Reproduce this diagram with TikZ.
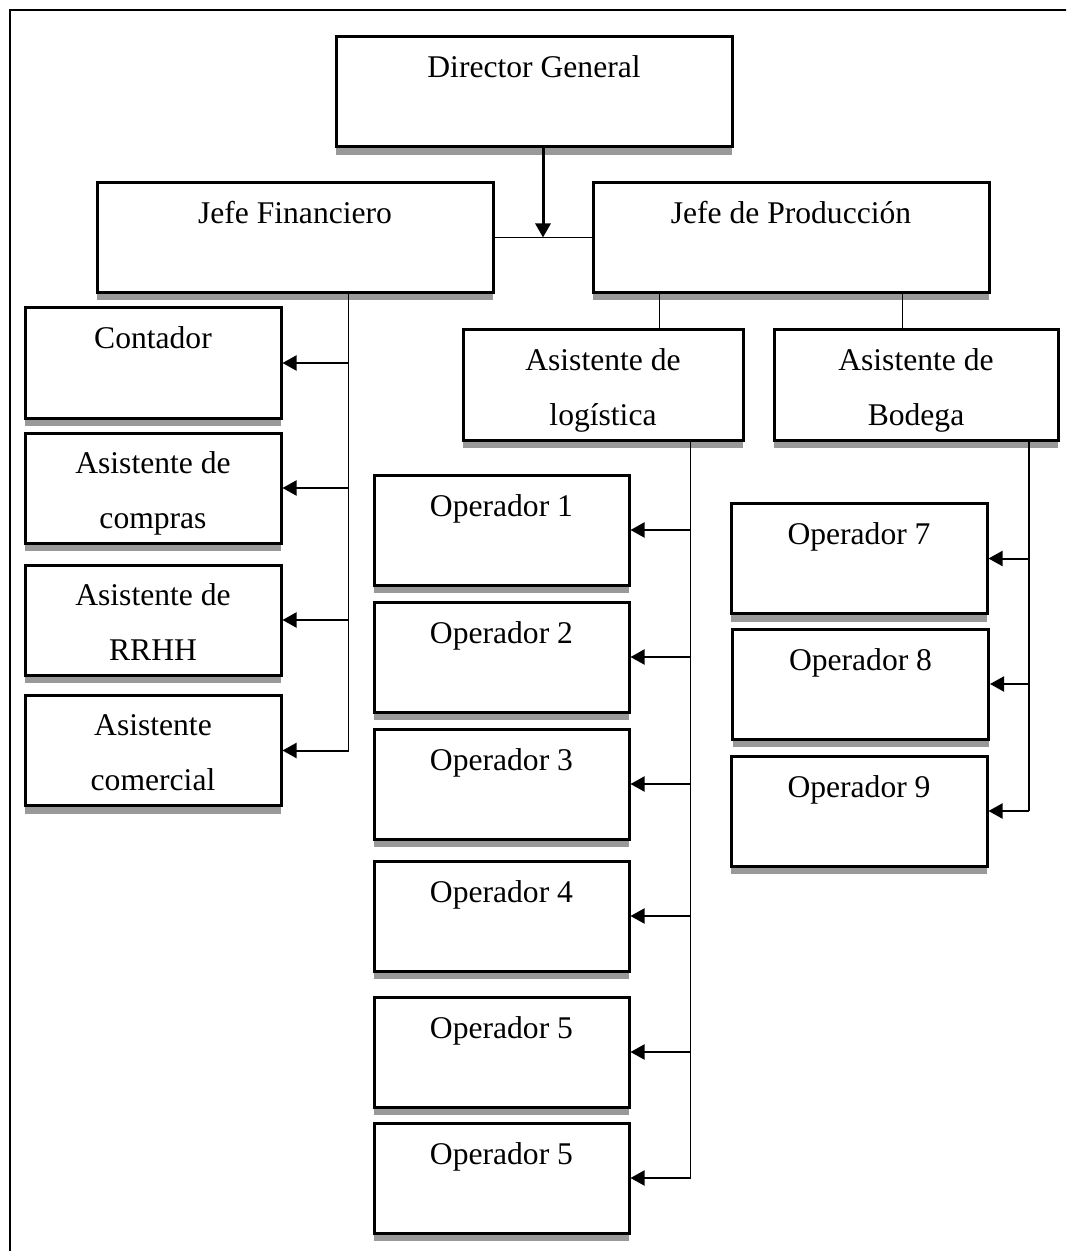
\documentclass[tikz,border=0pt]{standalone}
\usepackage{fontspec}
\setmainfont{Liberation Serif}
\usetikzlibrary{arrows.meta,calc,shadows}
\tikzset{
	orgchart/.style={x=0.5pt, y=-0.5pt, font=\fontsize{15.8}{27.5}\selectfont},
	orgbox/.style={draw, line width=1.5pt, fill=white, align=center,
		inner xsep=2pt, inner ysep=0pt, text height=20.5pt, text depth=34.5pt,
		minimum width=#1, minimum height=55pt,
		drop shadow={shadow xshift=0pt, shadow yshift=-4pt, fill=black!40, opacity=1}},
	orgbox/.default=198pt,
	twoline/.style={text height=47.5pt, text depth=7.5pt},
	wire/.style={line width=0.6pt},
	feed/.style={line width=1pt, -{Triangle[length=7pt,width=7.5pt]}},
	lead/.style={line width=1.5pt, -{Triangle[length=7pt,width=7.5pt]}}
}
\begin{document}
\begin{tikzpicture}[orgchart]
   \useasboundingbox (0,0) rectangle (1066,1251);
   \clip (0,0) rectangle (1066,1251);
   \draw[line width=1.4pt] (10,10) rectangle (1100,1290);
   % top levels
   \node[orgbox] (dir) at (534,92) {Director General};
   \node[orgbox] (fin) at (295,237.5) {Jefe Financiero};
   \node[orgbox] (prod) at (791,237.5) {Jefe de Producción};
   \node[orgbox=140pt, twoline] (log) at (603,385) {Asistente de\\logística};
   \node[orgbox=142pt, twoline] (bod) at (916,385) {Asistente de\\Bodega};
   \node[orgbox=128pt] (cont) at (153,363) {Contador};
   \foreach \n/\y/\t in {comp/488/{Asistente de\\compras},
         rrhh/620/{Asistente de\\RRHH}, comc/750.5/{Asistente\\comercial}}
      \node[orgbox=128pt, twoline] (\n) at (153,\y) {\t};
   % operators
   \foreach \i/\y in {1/530, 2/657, 3/784, 4/916, 5/1052}
      \node[orgbox=127.5pt] (op\i) at (501.5,\y) {Operador \i};
   \node[orgbox=127.5pt] (op6) at (501.5,1178) {Operador 5};
   \foreach \i/\x/\y in {7/859/558.5, 8/860.5/684, 9/859/811}
      \node[orgbox=128pt] (op\i) at (\x,\y) {Operador \i};
   % connectors
   \coordinate (mid) at ($(fin.east)!.5!(prod.west)$);
   \draw[wire] (fin.east) -- (prod.west);
   \draw[lead] (dir.south -| mid) -- (mid);
   \coordinate (finbus) at ($(fin.south west)!.635!(fin.south east)$);
   \draw[wire] (finbus) -- (finbus |- comc.east);
   \foreach \n in {cont,comp,rrhh,comc}
      \draw[feed] (finbus |- \n.east) -- (\n.east);
   \coordinate (prodL) at ($(prod.south west)!.17!(prod.south east)$);
   \coordinate (prodR) at ($(prod.south west)!.78!(prod.south east)$);
   \draw[wire] (prodL) -- (prodL |- log.north);
   \draw[wire] (prodR) -- (prodR |- bod.north);
   \coordinate (logbus) at ($(log.south west)!.81!(log.south east)$);
   \draw[wire] (logbus) -- (logbus |- op6.east);
   \foreach \i in {1,...,6}
      \draw[feed] (logbus |- op\i.east) -- (op\i.east);
   \coordinate (bodbus) at ($(bod.south west)!.894!(bod.south east)$);
   \draw[wire] (bodbus) -- (bodbus |- op9.east);
   \foreach \i in {7,8,9}
      \draw[feed] (bodbus |- op\i.east) -- (op\i.east);
\end{tikzpicture}
\end{document}
